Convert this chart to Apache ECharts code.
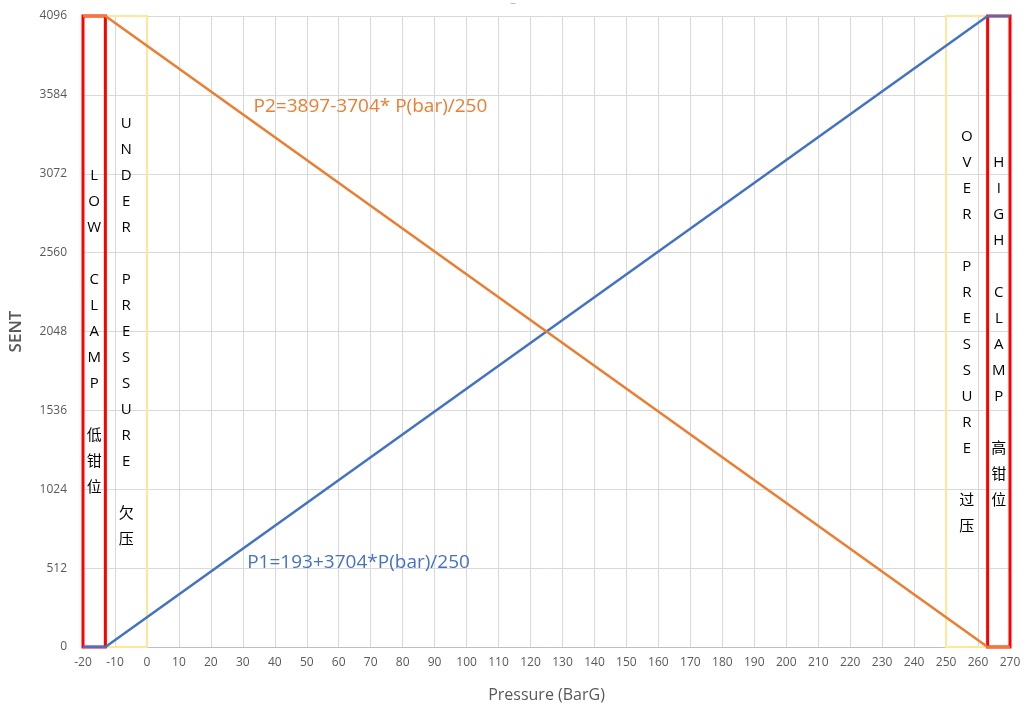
<!DOCTYPE html>
<html>
<head>
<meta charset="utf-8">
<script src="https://cdn.jsdelivr.net/npm/echarts@6/dist/echarts.min.js"></script>
<style>
  html, body { margin: 0; padding: 0; background: #fff; }
  #chart { width: 1026px; height: 713px; }
</style>
</head>
<body>
<div id="chart"></div>
<script>
// pressure (bar) points for the two SENT channels, clamped at both ends
const p1Data = [[-20, 0], [-13, 0], [263, 4096], [270, 4096]]
const p2Data = [[-20, 4096], [-13, 4096], [263, 0], [270, 0]]

// zones: [from, to] in bar
const lowClamp = [-20, -13]
const underPressure = [-13, 0]
const overPressure = [250, 263]
const highClamp = [263, 270]

const lowClampText = ['L', 'O', 'W', '', 'C', 'L', 'A', 'M', 'P', '', '低', '钳', '位']
const underText = ['U', 'N', 'D', 'E', 'R', '', 'P', 'R', 'E', 'S', 'S', 'U', 'R', 'E', '', '欠', '压']
const overText = ['O', 'V', 'E', 'R', '', 'P', 'R', 'E', 'S', 'S', 'U', 'R', 'E', '', '过', '压']
const highClampText = ['H', 'I', 'G', 'H', '', 'C', 'L', 'A', 'M', 'P', '', '高', '钳', '位']

const p1Label = 'P1=193+3704*P(bar)/250'
const p2Label = 'P2=3897-3704* P(bar)/250'

const font = '"Open Sans", "Noto Sans CJK SC", sans-serif'

function zone (range, text, color, width) {
  return [
    {
      coord: [range[0], 4096],
      itemStyle: { color: 'rgba(0,0,0,0)', borderColor: color, borderWidth: width },
      label: {
        show: true,
        position: 'inside',
        formatter: text.join('\n'),
        color: '#000',
        fontSize: 15,
        lineHeight: 26,
        fontFamily: font
      }
    },
    { coord: [range[1], 0] }
  ]
}

const chart = echarts.init(document.getElementById('chart'))
chart.setOption({
  animation: false,
  title: {
    text: '–',
    left: 'center',
    top: -6,
    textStyle: { fontSize: 9, color: '#999', fontWeight: 'normal' }
  },
  grid: { left: 82, right: 16, top: 16, bottom: 66 },
  xAxis: {
    type: 'value',
    min: -20,
    max: 270,
    interval: 10,
    name: 'Pressure (BarG)',
    nameLocation: 'middle',
    nameGap: 40,
    nameTextStyle: { fontSize: 16, color: '#595959', fontFamily: font },
    axisLine: { show: true, lineStyle: { color: '#BFBFBF' } },
    axisTick: { show: false },
    axisLabel: { color: '#595959', fontSize: 12, fontFamily: font, margin: 10 },
    splitLine: { show: true, lineStyle: { color: '#D9D9D9' } }
  },
  yAxis: {
    type: 'value',
    min: 0,
    max: 4096,
    interval: 512,
    name: 'SENT',
    nameLocation: 'middle',
    nameGap: 58,
    nameTextStyle: { fontSize: 17, color: '#595959', fontFamily: font, fontWeight: 600 },
    axisLine: { show: false },
    axisTick: { show: false },
    axisLabel: {
      color: '#595959',
      fontSize: 12,
      fontFamily: font,
      margin: 16,
      formatter: (v) => String(v)
    },
    splitLine: { show: true, lineStyle: { color: '#D9D9D9' } }
  },
  series: [
    {
      name: 'zones',
      type: 'line',
      data: [],
      z: 1,
      markArea: {
        silent: true,
        data: [
          zone(underPressure, underText, '#FFE699', 2),
          zone(overPressure, overText, '#FFE699', 2),
          zone(lowClamp, lowClampText, '#FF0000', 3),
          zone(highClamp, highClampText, '#FF0000', 3)
        ]
      }
    },
    {
      name: 'P1',
      type: 'line',
      data: p1Data,
      symbol: 'none',
      lineStyle: { color: '#4472C4', width: 2.5 },
      z: 3,
      markPoint: {
        symbol: 'circle',
        symbolSize: 0,
        data: [{ coord: [29.8, 545] }],
        label: {
          show: true,
          position: 'right',
          formatter: p1Label,
          color: '#4472C4',
          fontSize: 19,
          fontFamily: font
        }
      }
    },
    {
      name: 'P2',
      type: 'line',
      data: p2Data,
      symbol: 'none',
      lineStyle: { color: '#ED7D31', width: 2.5 },
      z: 3,
      markPoint: {
        symbol: 'circle',
        symbolSize: 0,
        data: [{ coord: [31.8, 3505] }],
        label: {
          show: true,
          position: 'right',
          formatter: p2Label,
          color: '#ED7D31',
          fontSize: 19,
          fontFamily: font
        }
      }
    }
  ]
})
</script>
</body>
</html>
